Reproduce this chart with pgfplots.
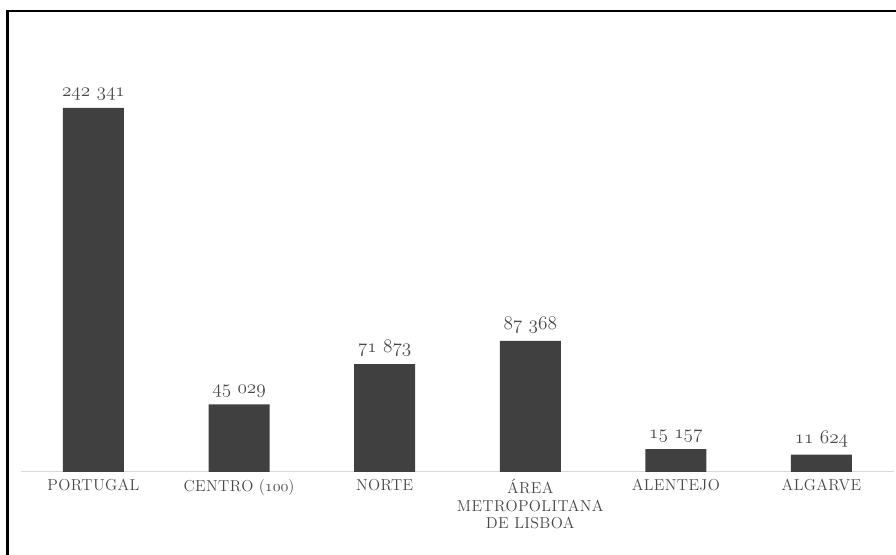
\documentclass[border=0pt]{standalone}
\usepackage{fontspec}
\newfontfamily\spacedfont{Latin Modern Roman}[LetterSpace=2.5]
\usepackage{pgfplots}
\pgfplotsset{compat=1.18}
\definecolor{barc}{HTML}{404040}
\definecolor{txt}{HTML}{474747}
\definecolor{axc}{HTML}{D9D9D9}
\newcommand{\osn}[1]{$\mathnormal{#1}$}
\begin{document}
\begin{tikzpicture}
\useasboundingbox (-15.5pt,-62.25pt) rectangle ++(672pt,416.25pt);
\draw[line width=1.6pt] (-9.9pt,-63pt) -- (-9.9pt,345.75pt) -- (660pt,345.75pt);
\begin{axis}[
  scale only axis, width=655.2pt, height=335.25pt,
  xmin=-0.5, xmax=5.5, ymin=0, ymax=297600,
  axis y line=none, axis x line*=bottom,
  x axis line style={draw=axc, line width=0.75pt, -},
  xtick=data, major tick length=0pt, ytick=\empty,
  xticklabels={PORTUGAL, {CENTRO (\osn{100})}, NORTE, {ÁREA\\METROPOLITANA\\DE LISBOA}, ALENTEJO, ALGARVE},
  xticklabel style={text=txt, font=\spacedfont\fontsize{11.9}{13.2}\selectfont, align=center, anchor=north, yshift=-2pt},
  ybar, bar width=45.75pt,
  clip=false,
  nodes near coords={\osn{\pgfmathprintnumber[fixed,precision=0,1000 sep={\,\,}]{\pgfplotspointmeta}}},
  every node near coord/.append style={text=txt, font=\fontsize{15.5}{18}\selectfont, yshift=2pt},
]
\addplot[fill=barc, draw=none] coordinates {(0,242341) (1,45029) (2,71873) (3,87368) (4,15157) (5,11624)};
\end{axis}
\end{tikzpicture}
\end{document}
